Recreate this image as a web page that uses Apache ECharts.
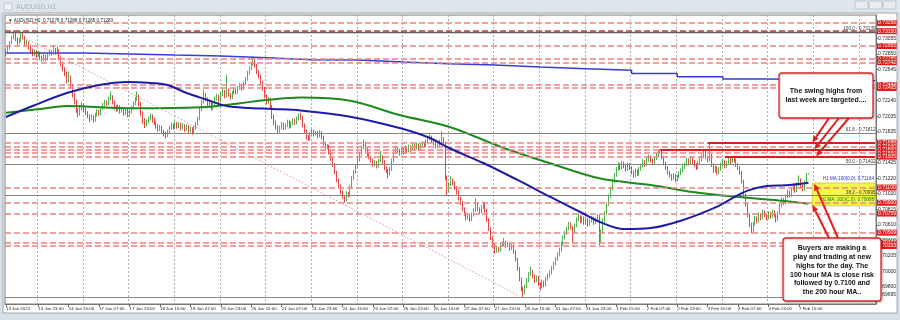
<!DOCTYPE html>
<html><head><meta charset="utf-8">
<script src="https://cdn.jsdelivr.net/npm/echarts@6/dist/echarts.min.js"></script>
<style>html,body{margin:0;padding:0;background:#fff}#c{width:900px;height:320px}</style>
</head><body><div id="c"></div>
<script>
// ---------- data ----------
const tradingDays = ['13 Jan','14 Jan','17 Jan','18 Jan','19 Jan','20 Jan','21 Jan','24 Jan','25 Jan','26 Jan','27 Jan','28 Jan','31 Jan','1 Feb','2 Feb','3 Feb','4 Feb','7 Feb','8 Feb','9 Feb'];
const timeLabels = ['13 Jan 2022','13 Jan 23:00','14 Jan 15:00','17 Jan 07:00','17 Jan 23:00','18 Jan 15:00','19 Jan 07:00','19 Jan 23:00','20 Jan 15:00','21 Jan 07:00','21 Jan 23:00','24 Jan 15:00','25 Jan 07:00','25 Jan 23:00','26 Jan 15:00','27 Jan 07:00','27 Jan 23:00','28 Jan 15:00','31 Jan 07:00','31 Jan 23:00','1 Feb 15:00','2 Feb 07:00','2 Feb 23:00','3 Feb 15:00','4 Feb 07:00','4 Feb 23:00','7 Feb 15:00'];
// hourly candles, [open, high, low, close] in pips (x 0.0001)
const bars = [
[7284,7292,7282,7289],[7289,7296,7287,7293],[7293,7302,7291,7300],[7300,7309,7298,7306],[7306,7316,7304,7311],[7311,7314,7302,7305],[7305,7307,7297,7300],[7300,7306,7298,7303],[7303,7315,7301,7310],[7310,7313,7304,7307],
[7307,7309,7295,7298],[7298,7304,7296,7300],[7300,7302,7291,7294],[7294,7297,7287,7290],[7290,7292,7282,7285],[7285,7291,7283,7288],[7288,7290,7280,7283],[7283,7289,7281,7286],[7286,7288,7277,7280],[7280,7283,7275,7278],
[7278,7285,7276,7282],[7282,7284,7276,7279],[7279,7287,7277,7284],[7284,7291,7282,7288],[7288,7290,7283,7286],[7286,7296,7284,7290],[7290,7293,7284,7287],[7287,7295,7285,7289],[7289,7291,7277,7280],[7280,7282,7269,7272],
[7272,7275,7262,7265],[7265,7268,7256,7260],[7260,7262,7247,7250],[7250,7262,7248,7255],[7255,7257,7240,7244],[7244,7246,7228,7232],[7232,7234,7219,7222],[7222,7225,7208,7212],[7212,7214,7202,7206],[7206,7217,7204,7214],
[7214,7222,7211,7218],[7218,7220,7209,7212],[7212,7215,7205,7208],[7208,7210,7201,7204],[7204,7206,7196,7200],[7200,7206,7198,7203],[7203,7205,7195,7198],[7198,7208,7196,7205],[7205,7213,7203,7210],[7210,7212,7204,7207],
[7207,7216,7205,7214],[7214,7221,7212,7218],[7218,7225,7216,7222],[7222,7224,7217,7220],[7220,7229,7218,7226],[7226,7236,7224,7229],[7229,7231,7219,7222],[7222,7224,7212,7215],[7215,7218,7209,7212],[7212,7219,7210,7216],
[7216,7218,7207,7210],[7210,7216,7208,7213],[7213,7215,7204,7207],[7207,7214,7205,7211],[7211,7213,7202,7205],[7205,7212,7203,7209],[7209,7217,7207,7214],[7214,7223,7212,7220],[7220,7229,7218,7226],[7226,7236,7224,7230],
[7230,7232,7217,7220],[7220,7222,7204,7208],[7208,7210,7194,7198],[7198,7201,7188,7192],[7192,7199,7190,7196],[7196,7203,7194,7200],[7200,7207,7198,7204],[7204,7206,7195,7198],[7198,7201,7192,7195],[7195,7197,7187,7190],
[7190,7193,7183,7186],[7186,7192,7184,7189],[7189,7191,7181,7184],[7184,7186,7177,7180],[7180,7183,7174,7178],[7178,7186,7176,7183],[7183,7191,7181,7188],[7188,7195,7186,7192],[7192,7194,7186,7189],[7189,7197,7187,7194],
[7194,7196,7187,7190],[7190,7196,7188,7193],[7193,7195,7185,7188],[7188,7194,7186,7191],[7191,7193,7183,7186],[7186,7193,7184,7190],[7190,7192,7181,7184],[7184,7190,7182,7187],[7187,7189,7179,7182],[7182,7191,7180,7188],
[7188,7196,7186,7193],[7193,7203,7191,7200],[7200,7215,7198,7212],[7212,7225,7210,7222],[7222,7238,7220,7232],[7232,7234,7223,7226],[7226,7228,7215,7218],[7218,7225,7216,7222],[7222,7224,7211,7214],[7214,7223,7212,7220],
[7220,7229,7218,7226],[7226,7233,7224,7230],[7230,7232,7221,7224],[7224,7235,7222,7232],[7232,7239,7230,7236],[7236,7238,7227,7230],[7230,7258,7228,7238],[7238,7240,7229,7232],[7232,7234,7225,7228],[7228,7237,7226,7234],
[7234,7241,7232,7238],[7238,7240,7232,7235],[7235,7243,7233,7240],[7240,7247,7238,7244],[7244,7246,7237,7240],[7240,7249,7238,7246],[7246,7255,7244,7252],[7252,7263,7250,7260],[7260,7269,7258,7266],[7266,7275,7264,7272],
[7272,7282,7270,7277],[7277,7279,7267,7270],[7270,7272,7259,7262],[7262,7264,7253,7256],[7256,7258,7245,7248],[7248,7250,7237,7240],[7240,7242,7227,7230],[7230,7232,7219,7222],[7222,7229,7220,7226],[7226,7228,7213,7216],
[7216,7218,7200,7204],[7204,7206,7192,7196],[7196,7198,7186,7190],[7190,7192,7181,7184],[7184,7191,7182,7188],[7188,7196,7186,7193],[7193,7195,7185,7188],[7188,7194,7186,7191],[7191,7199,7189,7196],[7196,7198,7187,7190],
[7190,7197,7188,7194],[7194,7201,7192,7198],[7198,7200,7192,7195],[7195,7203,7193,7200],[7200,7207,7198,7204],[7204,7208,7199,7202],[7202,7204,7189,7192],[7192,7194,7181,7184],[7184,7186,7173,7176],[7176,7179,7171,7174],
[7174,7183,7172,7180],[7180,7187,7178,7184],[7184,7186,7177,7180],[7180,7185,7178,7182],[7182,7184,7175,7178],[7178,7185,7176,7182],[7182,7184,7173,7176],[7176,7178,7165,7168],[7168,7170,7159,7162],[7162,7167,7160,7164],
[7164,7166,7153,7156],[7156,7158,7145,7148],[7148,7150,7137,7140],[7140,7142,7127,7130],[7130,7132,7117,7120],[7120,7122,7109,7112],[7112,7114,7101,7104],[7104,7106,7095,7098],[7098,7100,7090,7094],[7094,7105,7092,7102],
[7102,7104,7097,7100],[7100,7113,7098,7110],[7110,7125,7108,7122],[7122,7133,7120,7130],[7130,7141,7128,7138],[7138,7149,7136,7146],[7146,7157,7144,7154],[7154,7165,7152,7162],[7162,7173,7160,7168],[7168,7170,7157,7160],
[7160,7162,7151,7154],[7154,7157,7147,7150],[7150,7152,7143,7146],[7146,7148,7137,7140],[7140,7146,7138,7143],[7143,7145,7135,7138],[7138,7148,7136,7145],[7145,7158,7143,7150],[7150,7152,7141,7144],[7144,7146,7133,7136],
[7136,7138,7129,7132],[7132,7134,7122,7128],[7128,7137,7126,7134],[7134,7148,7132,7145],[7145,7159,7143,7156],[7156,7165,7154,7162],[7162,7164,7155,7158],[7158,7161,7152,7155],[7155,7163,7153,7160],[7160,7162,7153,7156],
[7156,7165,7154,7162],[7162,7164,7155,7158],[7158,7166,7156,7163],[7163,7165,7157,7160],[7160,7168,7158,7165],[7165,7167,7159,7162],[7162,7169,7160,7166],[7166,7168,7158,7161],[7161,7167,7159,7164],[7164,7171,7162,7168],
[7168,7170,7162,7165],[7165,7173,7163,7170],[7170,7177,7168,7174],[7174,7180,7172,7176],[7176,7178,7169,7172],[7172,7174,7165,7168],[7168,7170,7161,7164],[7164,7169,7162,7166],[7166,7173,7164,7170],[7170,7184,7168,7174],
[7174,7176,7165,7168],[7168,7170,7120,7124],[7124,7126,7100,7106],[7106,7117,7104,7114],[7114,7125,7112,7120],[7120,7122,7113,7116],[7116,7118,7107,7110],[7110,7112,7101,7104],[7104,7106,7093,7096],[7096,7098,7087,7090],
[7090,7092,7079,7082],[7082,7084,7073,7076],[7076,7078,7067,7070],[7070,7075,7068,7072],[7072,7074,7065,7068],[7068,7077,7066,7074],[7074,7083,7072,7080],[7080,7096,7078,7088],[7088,7090,7079,7082],[7082,7084,7075,7078],
[7078,7087,7076,7084],[7084,7092,7082,7088],[7088,7090,7077,7080],[7080,7082,7065,7068],[7068,7070,7053,7056],[7056,7058,7041,7044],[7044,7046,7031,7034],[7034,7036,7023,7026],[7026,7033,7024,7030],[7030,7032,7025,7028],
[7028,7037,7026,7034],[7034,7039,7032,7036],[7036,7044,7034,7038],[7038,7040,7031,7034],[7034,7039,7032,7036],[7036,7038,7027,7030],[7030,7036,7028,7033],[7033,7035,7023,7026],[7026,7028,7013,7016],[7016,7018,7001,7004],
[7004,7006,6987,6990],[6990,6992,6974,6978],[6978,6980,6966,6972],[6972,6983,6970,6980],[6980,6991,6978,6988],[6988,6999,6986,6996],[6996,7006,6994,7000],[7000,7002,6991,6994],[6994,6996,6985,6988],[6988,6995,6986,6992],
[6992,6994,6981,6984],[6984,6986,6975,6980],[6980,6989,6978,6986],[6986,6988,6979,6982],[6982,6993,6980,6990],[6990,6997,6988,6994],[6994,7001,6992,6998],[6998,7007,6996,7004],[7004,7013,7002,7010],[7010,7019,7008,7016],
[7016,7025,7014,7022],[7022,7031,7020,7028],[7028,7039,7026,7036],[7036,7047,7034,7044],[7044,7053,7042,7050],[7050,7059,7048,7056],[7056,7065,7054,7062],[7062,7064,7055,7058],[7058,7060,7038,7052],[7052,7063,7050,7060],
[7060,7071,7058,7068],[7068,7076,7066,7072],[7072,7074,7063,7066],[7066,7073,7064,7070],[7070,7072,7061,7064],[7064,7071,7062,7068],[7068,7070,7059,7062],[7062,7069,7060,7066],[7066,7073,7064,7070],[7070,7072,7061,7064],
[7064,7071,7062,7068],[7068,7075,7066,7072],[7072,7074,7034,7040],[7040,7055,7038,7052],[7052,7069,7050,7066],[7066,7079,7064,7076],[7076,7091,7074,7088],[7088,7101,7086,7098],[7098,7111,7096,7108],[7108,7121,7106,7118],
[7118,7129,7116,7126],[7126,7137,7124,7134],[7134,7143,7132,7140],[7140,7142,7133,7136],[7136,7145,7134,7142],[7142,7144,7135,7138],[7138,7140,7131,7134],[7134,7143,7132,7140],[7140,7142,7133,7136],[7136,7138,7127,7130],
[7130,7132,7123,7126],[7126,7135,7124,7132],[7132,7134,7125,7128],[7128,7137,7126,7134],[7134,7141,7132,7138],[7138,7147,7136,7144],[7144,7146,7137,7140],[7140,7149,7138,7146],[7146,7153,7144,7150],[7150,7152,7143,7146],
[7146,7148,7139,7142],[7142,7151,7140,7148],[7148,7155,7146,7152],[7152,7159,7150,7156],[7156,7160,7154,7158],[7158,7160,7147,7150],[7150,7152,7139,7142],[7142,7144,7133,7136],[7136,7138,7127,7130],[7130,7132,7123,7126],
[7126,7128,7119,7122],[7122,7129,7120,7126],[7126,7128,7117,7120],[7120,7127,7118,7124],[7124,7131,7122,7128],[7128,7135,7126,7132],[7132,7139,7130,7136],[7136,7143,7134,7140],[7140,7149,7138,7146],[7146,7148,7139,7142],
[7142,7151,7140,7148],[7148,7150,7141,7144],[7144,7146,7137,7140],[7140,7142,7133,7136],[7136,7145,7134,7142],[7142,7149,7140,7146],[7146,7153,7144,7150],[7150,7159,7148,7156],[7156,7158,7147,7150],[7150,7152,7143,7146],
[7146,7168,7144,7152],[7152,7154,7137,7140],[7140,7142,7129,7132],[7132,7139,7130,7136],[7136,7138,7127,7130],[7130,7137,7128,7134],[7134,7143,7132,7140],[7140,7147,7138,7144],[7144,7146,7135,7138],[7138,7145,7136,7142],
[7142,7151,7140,7148],[7148,7150,7141,7144],[7144,7151,7142,7150],[7150,7152,7143,7146],[7146,7148,7137,7140],[7140,7142,7133,7136],[7136,7138,7127,7130],[7130,7132,7115,7118],[7118,7120,7097,7100],[7100,7102,7085,7088],
[7088,7090,7071,7074],[7074,7076,7058,7062],[7062,7064,7050,7054],[7054,7065,7052,7062],[7062,7073,7060,7070],[7070,7072,7063,7066],[7066,7077,7064,7074],[7074,7076,7067,7070],[7070,7081,7068,7078],[7078,7080,7071,7074],
[7074,7076,7067,7070],[7070,7079,7068,7076],[7076,7078,7069,7072],[7072,7081,7070,7078],[7078,7080,7071,7074],[7074,7076,7064,7068],[7068,7079,7066,7076],[7076,7089,7074,7086],[7086,7097,7084,7094],[7094,7096,7087,7090],
[7090,7101,7088,7098],[7098,7107,7096,7104],[7104,7106,7097,7100],[7100,7111,7098,7108],[7108,7115,7106,7112],[7112,7114,7103,7106],[7106,7117,7104,7114],[7114,7126,7112,7120],[7120,7122,7109,7112],[7112,7114,7105,7108],
[7108,7119,7106,7116],[7116,7129,7114,7127.8],[7127.8,7128.8,7126.6,7128.3]
];
// moving averages: [bar index, price]
const ma100 = [[0,0.72025],[14,0.72169],[32,0.72339],[49,0.72444],[64,0.72483],[76,0.72470],[85,0.72444],[95,0.72339],[106,0.72248],[116,0.72169],[128,0.72143],[140,0.72130],[155,0.72110],[181,0.72029],[207,0.71880],[223,0.71749],[233,0.71618],[251,0.71422],[269,0.71199],[286,0.70980],[303,0.70766],[312,0.70652],[325,0.70556],[339,0.70569],[356,0.70674],[374,0.70850],[382,0.70960],[390,0.71060],[400,0.71120],[410,0.71130],[422,0.71164]];
const ma200 = [[0,0.72081],[18,0.72130],[32,0.72169],[67,0.72139],[102,0.72152],[137,0.72248],[155,0.72280],[181,0.72238],[207,0.72051],[233,0.71897],[260,0.71635],[286,0.71418],[312,0.71221],[339,0.71133],[365,0.71028],[391,0.70963],[408,0.70927],[422,0.70888]];
const maDaily = [[0,0.72864],[41,0.72851],[65,0.72837],[89,0.72824],[113,0.72802],[137,0.72776],[161,0.72772],[185,0.72746],[209,0.72723],[233,0.72706],[257,0.72680],[281,0.72658],[305,0.72637],[329,0.72595],[353,0.72553],[377,0.72523],[401,0.72501],[457,0.72501]];
const redLevels = [0.73256,0.73150,0.72955,0.72785,0.72742,0.72444,0.72405,0.71688,0.71640,0.71600,0.71550,0.71505,0.71100,0.70900,0.70759,0.70509,0.70377,0.70333];
const fibLevels = [0.73139,0.71812,0.71402,0.70995,0.69665];
const fibNames = ['100.0','61.8','50.0','38.2','0.0'];
const swingHighs = [[369,0.71688],[344,0.71600],[378,0.71510]];
const trendLine = [[12,0.73034],[270,0.69678]];
const boxZone = [[424,0.71160],[457,0.70860]];
const priceTicks = [0.73055,0.72850,0.72645,0.72440,0.72240,0.72035,0.71835,0.71630,0.71425,0.71220,0.71020,0.70815,0.70610,0.70410,0.70205,0.70000,0.69800,0.69695];
const lastQuote = [0.71278,0.71288,0.71266,0.71283];
const ma100Label = 'H1 MA:100(0,0): 0.71164';
const ma200Label = 'H1 MA: 200(C,0): 0.70888';
const noteTop = ['The swing highs from','last week are targeted....'];
const noteBottom = ['Buyers are making a','play and trading at new','highs for the day. The','100 hour MA is close risk','followed by 0.7100 and','the 200 hour MA..'];

// ---------- build ----------
const NCAT = 458;
const categories = [];
tradingDays.forEach(d => { for (let h = 0; h < 24; h++) categories.push(d + ' ' + String(h).padStart(2,'0') + ':00'); });
const cats = categories.slice(6, 6 + NCAT);
const labelFor = {};
timeLabels.forEach((t, k) => { labelFor[cats[k === 0 ? 0 : 17 + (k - 1) * 16]] = t; });
const isLabelBar = (i, v) => labelFor[cats[i]] !== undefined;
const isGridBar = (i) => i >= 17 && (i - 17) % 24 === 0;
const P = 10000;
const candleData = bars.map(b => [b[0]/P, b[3]/P, b[2]/P, b[1]/P]);
const FONT = 'Liberation Sans';

const option = {
  animation: false,
  backgroundColor: '#ffffff',
  grid: { left: 5, right: 24, top: 15, bottom: 16, show: true, borderColor: '#7a7a7a', borderWidth: 1, backgroundColor: '#ffffff' },
  xAxis: {
    type: 'category', data: cats, boundaryGap: true,
    axisLine: { show: true, lineStyle: { color: '#777', width: 1 } },
    axisTick: { show: true, interval: isLabelBar, length: 3, alignWithLabel: true, lineStyle: { color: '#666' } },
    axisLabel: { interval: isLabelBar, formatter: v => labelFor[v] || '', fontSize: 4.4, fontFamily: FONT, color: '#222', align: 'left', margin: 3 },
    splitLine: { show: true, interval: isGridBar, lineStyle: { color: '#9c9c9c', type: [2, 2], width: 0.8 } }
  },
  yAxis: {
    type: 'value', position: 'right', min: 0.69573, max: 0.73362, scale: true,
    axisLine: { show: true, lineStyle: { color: '#777', width: 1 } },
    axisTick: { show: true, customValues: priceTicks, length: 2, lineStyle: { color: '#666' } },
    axisLabel: { customValues: priceTicks, formatter: v => v.toFixed(5), fontSize: 5, fontFamily: FONT, color: '#222', margin: 2 },
    splitLine: { show: false }
  },
  series: [
    {
      name: 'dailyMA', type: 'line', data: maDaily, step: 'end', symbol: 'none', z: 1,
      lineStyle: { color: '#3b3bd6', width: 1.4 },
      markArea: { silent: true, precision: 5, itemStyle: { color: '#f6f64a', borderColor: '#b8b800', borderWidth: 0.6 },
        data: [[{ coord: boxZone[0] }, { coord: boxZone[1] }]] }
    },
    {
      name: 'AUDUSD', type: 'candlestick', data: candleData, barWidth: 1.3, z: 3,
      itemStyle: { color: '#1f9f1f', color0: '#e41414', borderColor: '#1f9f1f', borderColor0: '#e41414', borderWidth: 0.8 },
      markLine: {
        silent: true, symbol: ['none', 'none'], animation: false, precision: 5,
        data: redLevels.map(p => ({
          yAxis: p,
          lineStyle: { color: p === 0.73150 ? '#b54040' : '#ec8484', type: [6, 3], width: p === 0.73150 ? 1.7 : 1.5 },
          label: { show: true, position: 'end', formatter: p.toFixed(5), backgroundColor: '#e41b1b', color: '#fff', fontSize: 5, fontFamily: FONT, padding: [1, 1, 0, 1], distance: 1 }
        })).concat([{
          yAxis: lastQuote[3], lineStyle: { opacity: 0 },
          label: { show: true, position: 'end', formatter: lastQuote[3].toFixed(5), backgroundColor: '#000', color: '#fff', fontSize: 5, fontFamily: FONT, padding: [1, 1, 0, 1], distance: 1 }
        }])
      }
    },
    {
      name: 'MA200', type: 'line', data: ma200, smooth: 0.35, symbol: 'none', z: 4,
      lineStyle: { color: '#1d8a1d', width: 2 },
      markLine: {
        silent: true, symbol: ['none', 'none'], precision: 5,
        data: fibLevels.map((p, k) => ({
          yAxis: p, lineStyle: { color: k === 0 ? '#6a5a5a' : '#858585', type: 'solid', width: k === 0 ? 1.3 : 1 },
          label: { show: k < 4, position: 'insideEndTop', formatter: fibNames[k] + ' - ' + p.toFixed(5), fontSize: 4.6, fontFamily: FONT, color: '#333', distance: 0.5 }
        }))
      }
    },
    {
      name: 'MA100', type: 'line', data: ma100, smooth: 0.35, symbol: 'none', z: 5,
      lineStyle: { color: '#1c1ca8', width: 2 },
      markLine: {
        silent: true, symbol: ['none', 'none'], label: { show: false }, precision: 5,
        data: swingHighs.map(s => [{ coord: [s[0], s[1]], lineStyle: { color: '#e41b1b', width: 2.2, type: 'solid' } }, { coord: [NCAT - 1, s[1]] }])
          .concat([[{ coord: trendLine[0], lineStyle: { color: '#e49090', type: [1.5, 2], width: 1 } }, { coord: trendLine[1] }]])
      }
    }
  ]
};

const chart = echarts.init(document.getElementById('c'));
chart.setOption(option);

const px = (i, p) => chart.convertToPixel({ gridIndex: 0 }, [i, p]);
const RED = '#e01f1f';
function arrow(x1, y1, x2, y2) {
  const a = Math.atan2(y2 - y1, x2 - x1), L = 7, W = 3;
  const bx = x2 - L * Math.cos(a), by = y2 - L * Math.sin(a);
  const nx = -Math.sin(a) * W, ny = Math.cos(a) * W;
  return [
    { type: 'line', z: 100, shape: { x1: x1, y1: y1, x2: bx, y2: by }, style: { stroke: RED, lineWidth: 2 } },
    { type: 'polygon', z: 100, shape: { points: [[x2, y2], [bx + nx, by + ny], [bx - nx, by - ny]] }, style: { fill: RED } }
  ];
}
const g = [];
// window frame
g.push({ type: 'rect', z: 90, shape: { x: 0, y: 0, width: 900, height: 13 }, style: { fill: '#dfe5ec' } });
g.push({ type: 'rect', z: 90, shape: { x: 0, y: 13, width: 3, height: 307 }, style: { fill: '#d9dfe6' } });
g.push({ type: 'rect', z: 90, shape: { x: 897, y: 13, width: 3, height: 307 }, style: { fill: '#d9dfe6' } });
g.push({ type: 'rect', z: 90, shape: { x: 0, y: 313, width: 900, height: 7 }, style: { fill: '#d9dfe6' } });
g.push({ type: 'rect', z: 91, shape: { x: 3, y: 13, width: 894, height: 300 }, style: { fill: 'none', stroke: '#9ea8b3', lineWidth: 1 } });
g.push({ type: 'rect', z: 91, shape: { x: 4, y: 3, width: 8, height: 7, r: 1 }, style: { fill: '#eef2f6', stroke: '#b4bfcb', lineWidth: 0.8 } });
g.push({ type: 'text', z: 91, style: { x: 16, y: 7, text: 'AUDUSD,H1', fontSize: 7, fontFamily: FONT, fill: '#aab3bd', verticalAlign: 'middle' } });
[[855, 13], [869, 13], [883, 13]].forEach(b => g.push({ type: 'rect', z: 91, shape: { x: b[0], y: 1, width: b[1], height: 8, r: 1 }, style: { fill: '#e9edf1', stroke: '#aeb8c2', lineWidth: 0.7 } }));
// header
g.push({ type: 'text', z: 60, style: { x: 8, y: 20.5, text: '\u25BC AUDUSD,H1  ' + lastQuote.map(v => v.toFixed(5)).join(' '), fontSize: 4.6, fontFamily: FONT, fill: '#222', verticalAlign: 'middle' } });
// MA labels
const pb = px(NCAT - 1, 0.71164), pg = px(NCAT - 1, 0.70888);
g.push({ type: 'text', z: 60, style: { x: 874, y: pb[1] - 1, text: ma100Label, fontSize: 4.6, fontFamily: FONT, fill: '#2828c8', align: 'right', verticalAlign: 'bottom' } });
g.push({ type: 'text', z: 60, style: { x: 874, y: pg[1] - 1, text: ma200Label, fontSize: 4.6, fontFamily: FONT, fill: '#1a801a', align: 'right', verticalAlign: 'bottom' } });
// top note box
g.push({ type: 'rect', z: 95, shape: { x: 779, y: 73, width: 94, height: 45, r: 3 }, style: { fill: '#fff', stroke: '#d42a2a', lineWidth: 1.3, shadowBlur: 2, shadowColor: 'rgba(0,0,0,0.25)', shadowOffsetX: 1, shadowOffsetY: 1 } });
noteTop.forEach((t, k) => g.push({ type: 'text', z: 96, style: { x: 826, y: 91 + k * 9.5, text: t, fontSize: 7, fontWeight: 'bold', fontFamily: FONT, fill: '#111', align: 'center', verticalAlign: 'middle' } }));
// bottom note box
g.push({ type: 'rect', z: 95, shape: { x: 783, y: 238, width: 98, height: 63, r: 3 }, style: { fill: '#fff', stroke: '#d42a2a', lineWidth: 1.3, shadowBlur: 2, shadowColor: 'rgba(0,0,0,0.25)', shadowOffsetX: 1, shadowOffsetY: 1 } });
noteBottom.forEach((t, k) => g.push({ type: 'text', z: 96, style: { x: 832, y: 248.5 + k * 8.7, text: t, fontSize: 7, fontWeight: 'bold', fontFamily: FONT, fill: '#111', align: 'center', verticalAlign: 'middle' } }));
// arrows
const t1 = px(424, swingHighs[0][1]), t2 = px(425, swingHighs[1][1]), t3 = px(426, swingHighs[2][1]);
g.push(...arrow(829, 118, t1[0], t1[1]));
g.push(...arrow(839, 118, t2[0], t2[1]));
g.push(...arrow(849, 118, t3[0], t3[1]));
const t4 = px(425, 0.71164), t5 = px(424, 0.70888);
g.push(...arrow(838, 238, t4[0], t4[1] + 1));
g.push(...arrow(829, 238, t5[0], t5[1] + 1));
chart.setOption({ graphic: g });
</script>
</body></html>
